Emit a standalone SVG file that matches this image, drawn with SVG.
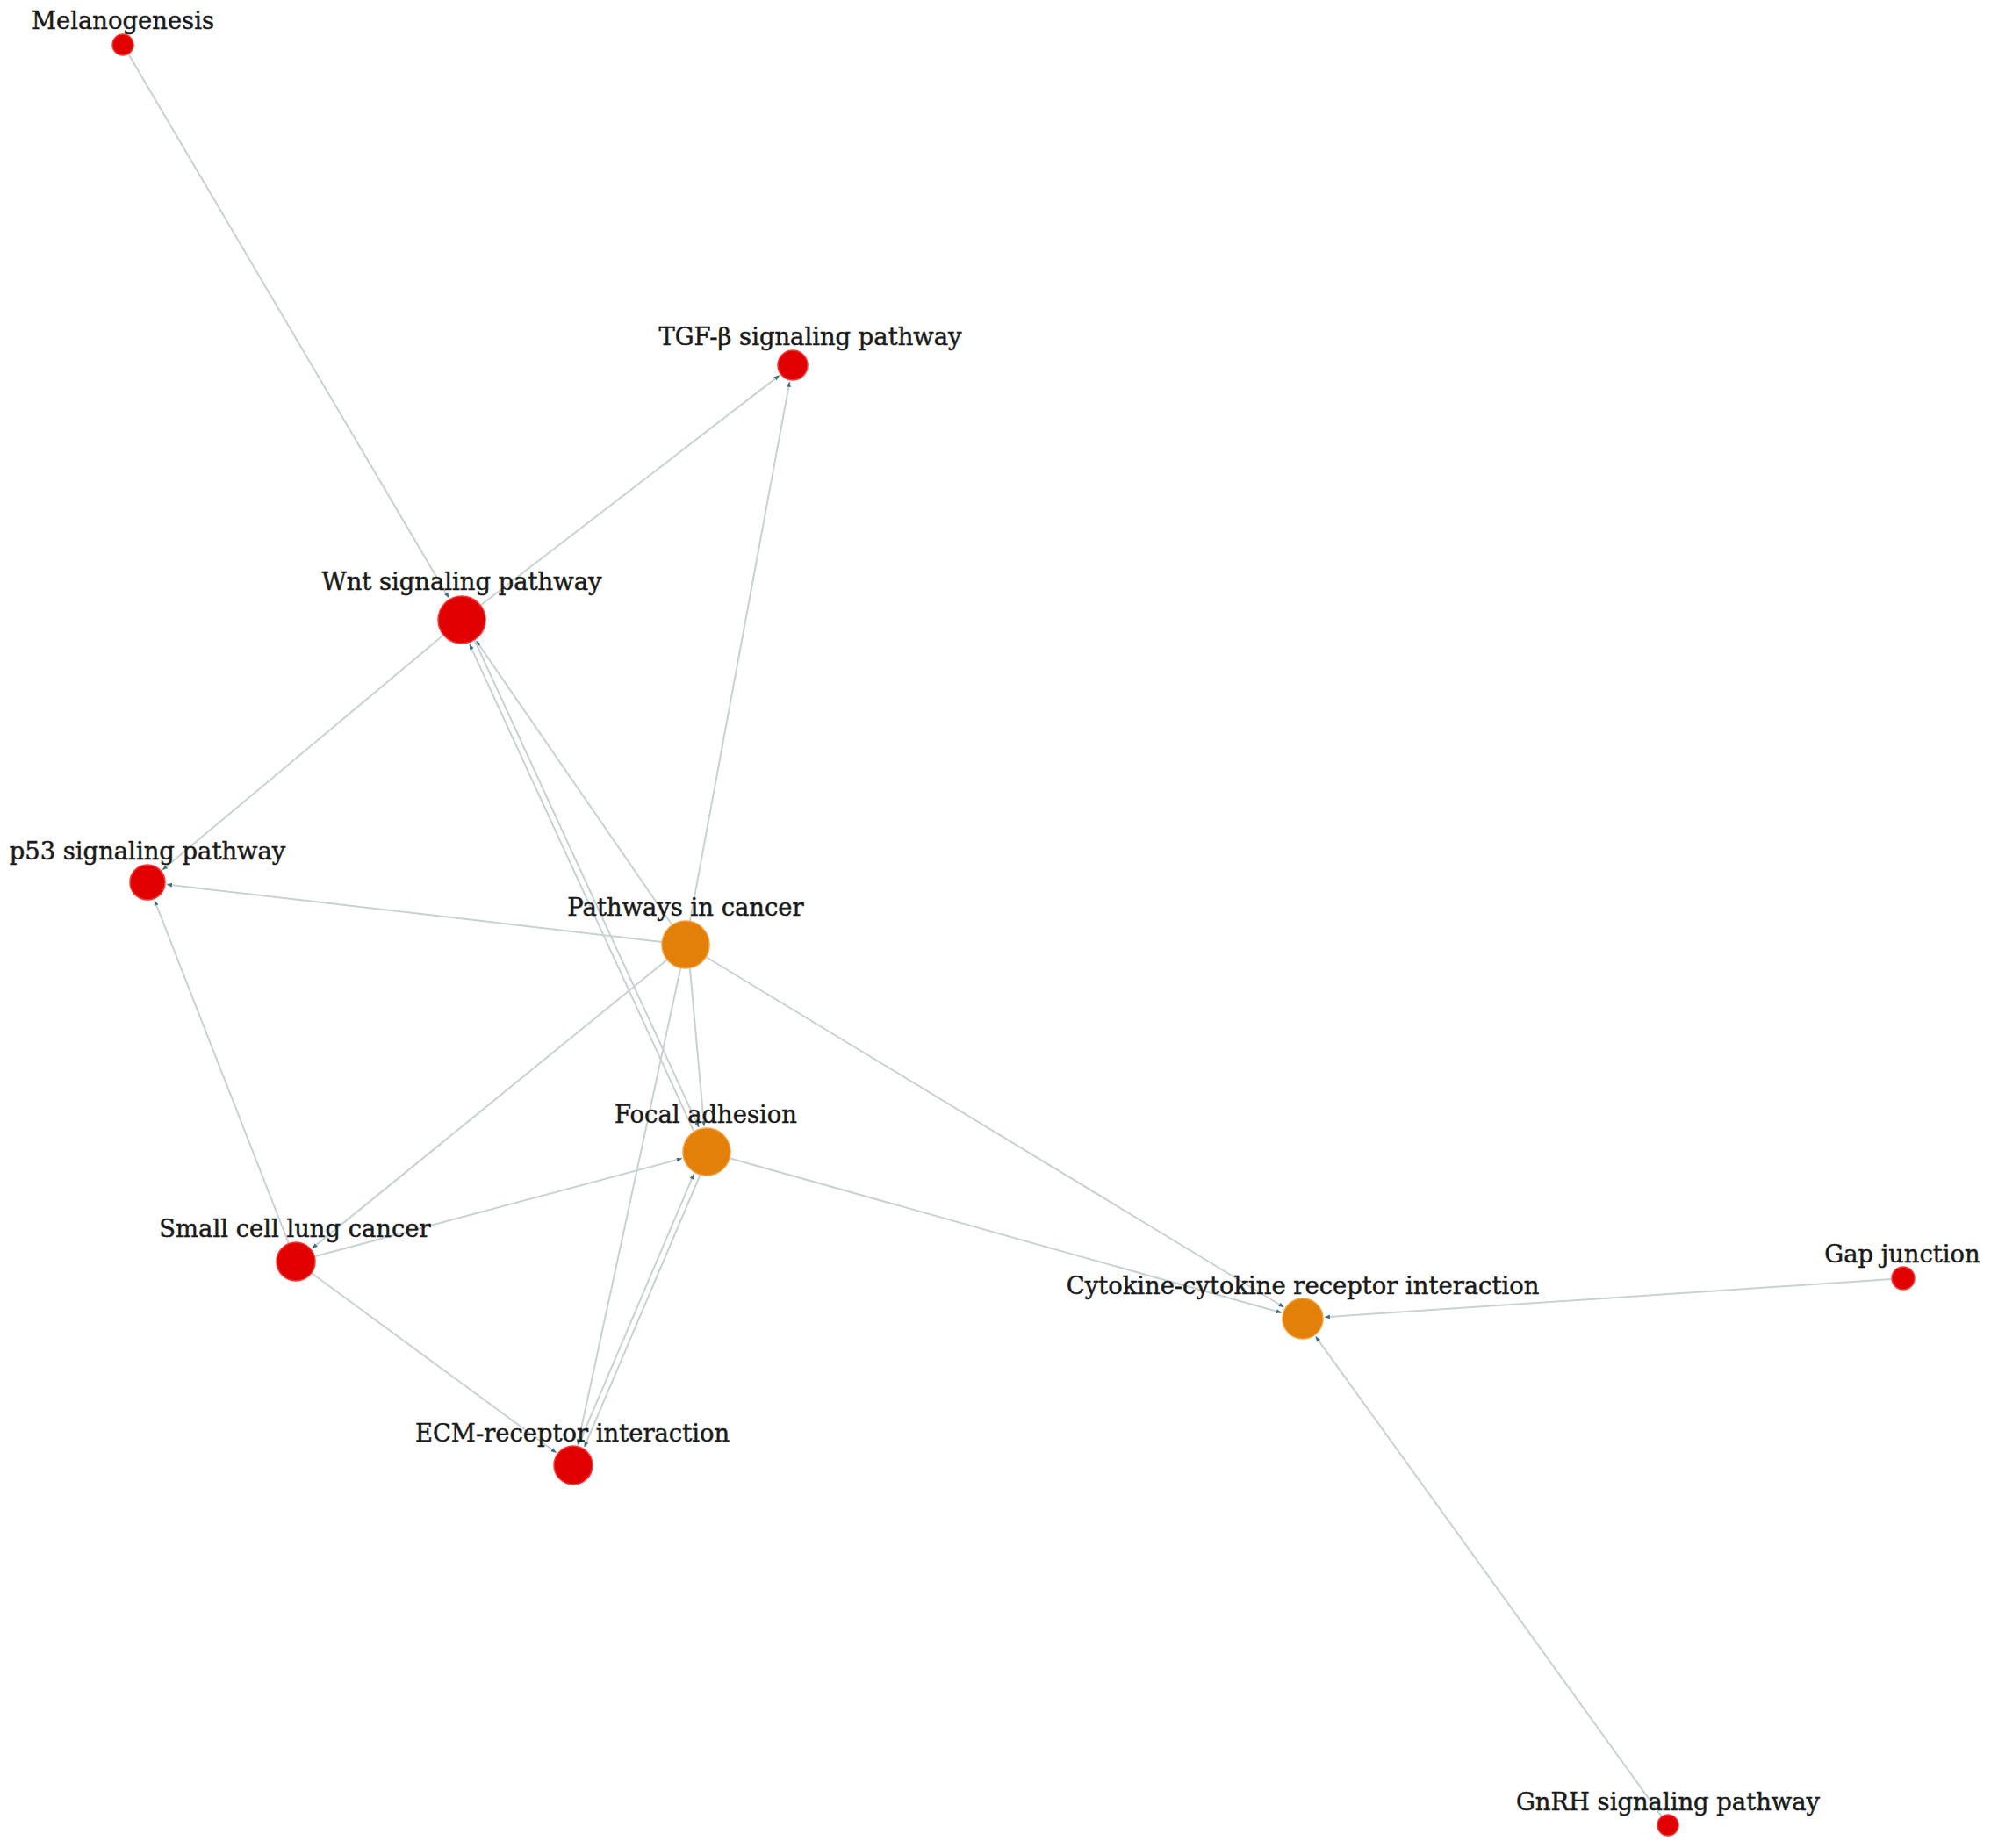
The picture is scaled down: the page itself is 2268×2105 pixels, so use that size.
<svg xmlns="http://www.w3.org/2000/svg" width="2268" height="2105" viewBox="0 0 2268 2105">
<style>
.e{stroke:#c8d2d2;stroke-width:2;fill:none;marker-end:url(#arr)}
.red{fill:#e00000;stroke:#f23c3c;stroke-width:1.5}
.org{fill:#e38008;stroke:#f0a040;stroke-width:1.5}
.lbl{font-family:"DejaVu Serif","Liberation Serif",serif;font-size:27.4px;fill:#1a1a1a;stroke:#1a1a1a;stroke-width:0.5;text-anchor:middle}
</style>
<defs>
<marker id="arr" markerUnits="userSpaceOnUse" markerWidth="8" markerHeight="8" viewBox="0 0 8 8" refX="7" refY="4" orient="auto">
<path d="M1,1.5 L7,4 L1,6.5 Z" fill="#3d6f7c"/>
</marker>
</defs>
<rect width="2268" height="2105" fill="#ffffff"/>
<g id="edges">
<line class="e" x1="146.1" y1="61.3" x2="511.3" y2="681"/>
<line class="e" x1="547.4" y1="689.5" x2="887.9" y2="427.6"/>
<line class="e" x1="785.9" y1="1049.5" x2="899.5" y2="434.7"/>
<line class="e" x1="505.3" y1="723.3" x2="184.9" y2="990.9"/>
<line class="e" x1="754.2" y1="1072.9" x2="189.9" y2="1007.5"/>
<line class="e" x1="329.0" y1="1416.5" x2="176.0" y2="1025.5"/>
<line class="e" x1="765.7" y1="1053.8" x2="542.5" y2="729.9"/>
<line class="e" x1="540.5" y1="729.0" x2="796.1" y2="1284.2"/>
<line class="e" x1="790.5" y1="1289.0" x2="534.9" y2="733.8"/>
<line class="e" x1="785.9" y1="1102.8" x2="802.1" y2="1283.1"/>
<line class="e" x1="358.3" y1="1431.3" x2="777.0" y2="1319.5"/>
<line class="e" x1="760.1" y1="1093.0" x2="355.6" y2="1421.9"/>
<line class="e" x1="354.7" y1="1450.0" x2="633.7" y2="1654.8"/>
<line class="e" x1="797.6" y1="1338.2" x2="665.6" y2="1648.3"/>
<line class="e" x1="658.4" y1="1647.4" x2="790.4" y2="1337.3"/>
<line class="e" x1="775.3" y1="1102.4" x2="658.1" y2="1645.5"/>
<line class="e" x1="804.1" y1="1090.0" x2="1462.6" y2="1489.0"/>
<line class="e" x1="831.0" y1="1319.3" x2="1459.9" y2="1495.3"/>
<line class="e" x1="2155.0" y1="1456.9" x2="1508.9" y2="1500.3"/>
<line class="e" x1="1893.0" y1="2069.3" x2="1498.6" y2="1522.3"/>
</g>
<g id="n-melanogenesis"><circle class="red" cx="140" cy="51" r="12"/><text class="lbl" x="140" y="33">Melanogenesis</text></g>
<g id="n-tgfb"><circle class="red" cx="903" cy="416" r="17"/><text class="lbl" x="923" y="393">TGF-β signaling pathway</text></g>
<g id="n-wnt"><circle class="red" cx="526" cy="706" r="27"/><text class="lbl" x="526" y="672">Wnt signaling pathway</text></g>
<g id="n-p53"><circle class="red" cx="168" cy="1005" r="20"/><text class="lbl" x="168" y="979">p53 signaling pathway</text></g>
<g id="n-pathways"><circle class="org" cx="781" cy="1076" r="27"/><text class="lbl" x="781" y="1043">Pathways in cancer</text></g>
<g id="n-focal"><circle class="org" cx="805" cy="1312" r="27"/><text class="lbl" x="804" y="1279">Focal adhesion</text></g>
<g id="n-sclc"><circle class="red" cx="337" cy="1437" r="22"/><text class="lbl" x="336" y="1409">Small cell lung cancer</text></g>
<g id="n-cytokine"><circle class="org" cx="1484" cy="1502" r="23"/><text class="lbl" x="1484" y="1474">Cytokine-cytokine receptor interaction</text></g>
<g id="n-gap"><circle class="red" cx="2168" cy="1456" r="13"/><text class="lbl" x="2167" y="1438">Gap junction</text></g>
<g id="n-ecm"><circle class="red" cx="653" cy="1669" r="22"/><text class="lbl" x="652" y="1642">ECM-receptor interaction</text></g>
<g id="n-gnrh"><circle class="red" cx="1900" cy="2079" r="12"/><text class="lbl" x="1900" y="2062">GnRH signaling pathway</text></g>
</svg>
